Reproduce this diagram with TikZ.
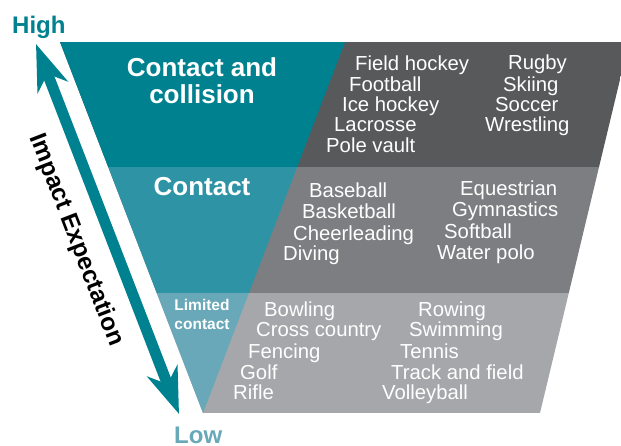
\documentclass[tikz,border=0pt]{standalone}
\usepackage{fontspec}
\setmainfont{Liberation Sans}
\usetikzlibrary{arrows.meta, positioning}

\definecolor{tealdark}{RGB}{0,129,143}
\definecolor{tealmid}{RGB}{46,147,165}
\definecolor{teallight}{RGB}{104,168,184}
\definecolor{graydark}{RGB}{88,89,91}
\definecolor{graymid}{RGB}{125,126,129}
\definecolor{graylight}{RGB}{166,167,170}

\begin{document}
\begin{tikzpicture}[x=1pt, y=-1pt, >={Stealth[length=46pt, width=32pt, inset=14pt]}]
    \tikzstyle{sport}=[anchor=base west, inner sep=0pt, text=white, font=\fontsize{20.3}{20.7}\selectfont]
    \tikzstyle{head}=[anchor=base, inner sep=0pt, text=white, align=center, font=\bfseries\fontsize{26}{27}\selectfont]
    \tikzstyle{axislabel}=[anchor=base west, inner sep=0pt, font=\bfseries\fontsize{24}{24}\selectfont]

    \useasboundingbox (0,0) rectangle (621,445);

    % bands of the funnel
    \begin{scope}
        \clip (60,42) -- (629,42) -- (540,413) -- (203,413) -- cycle;
        \fill[graydark] (0,42) rectangle (621,167);
        \fill[graymid] (0,167) rectangle (621,293);
        \fill[graylight] (0,293) rectangle (621,413);
        \clip (60,42) -- (345,42) -- (203,413) -- cycle;
        \fill[tealdark] (0,42) rectangle (621,167);
        \fill[tealmid] (0,167) rectangle (621,293);
        \fill[teallight] (0,293) rectangle (621,413);
    \end{scope}

    % impact axis
    \coordinate (top) at (36,44);
    \coordinate (bottom) at (179,414);
    \draw[<->, tealdark, line width=11pt] (top) -- (bottom);
    \node[axislabel, text=tealdark] (high) at (12,33) {High};
    \node[axislabel, text=teallight] (low) at (174,443) {Low};
    \node[rotate=-68.9, inner sep=0pt, font=\bfseries\fontsize{24.5}{25}\selectfont] (impact) at (76,240) {Impact Expectation};

    \node[head] (cc) at (202,103) {Contact and\\collision};
    \node[head] (c) at (202,195) {Contact};
    \node[head, font=\bfseries\fontsize{15.5}{19}\selectfont] (lc) at (202,329) {Limited\\contact};

    % contact and collision
    \node[sport] (fieldhockey) at (355,70.7) {Field hockey};
    \node[sport] (football) at (349,91) {Football};
    \node[sport] (icehockey) at (342,111.7) {Ice hockey};
    \node[sport] (lacrosse) at (334,131.7) {Lacrosse};
    \node[sport] (polevault) at (326,152) {Pole vault};
    \node[sport] (rugby) at (508,69) {Rugby};
    \node[sport] (skiing) at (503,91) {Skiing};
    \node[sport] (soccer) at (495,111.7) {Soccer};
    \node[sport] (wrestling) at (485,131.7) {Wrestling};

    % contact
    \node[sport] (baseball) at (309,197) {Baseball};
    \node[sport] (basketball) at (302,218) {Basketball};
    \node[sport] (cheer) at (293,240) {Cheerleading};
    \node[sport] (diving) at (283,260) {Diving};
    \node[sport] (equestrian) at (460,195) {Equestrian};
    \node[sport] (gymnastics) at (452,216.5) {Gymnastics};
    \node[sport] (softball) at (444,238) {Softball};
    \node[sport] (waterpolo) at (437,259) {Water polo};

    % limited contact
    \node[sport] (bowling) at (264,316) {Bowling};
    \node[sport] (crosscountry) at (256,336.5) {Cross country};
    \node[sport] (fencing) at (248,358) {Fencing};
    \node[sport] (golf) at (240,379) {Golf};
    \node[sport] (rifle) at (233,399) {Rifle};
    \node[sport] (rowing) at (418,316) {Rowing};
    \node[sport] (swimming) at (409,336.5) {Swimming};
    \node[sport] (tennis) at (400,358) {Tennis};
    \node[sport] (track) at (391,379) {Track and field};
    \node[sport] (volleyball) at (382,399) {Volleyball};
\end{tikzpicture}
\end{document}
